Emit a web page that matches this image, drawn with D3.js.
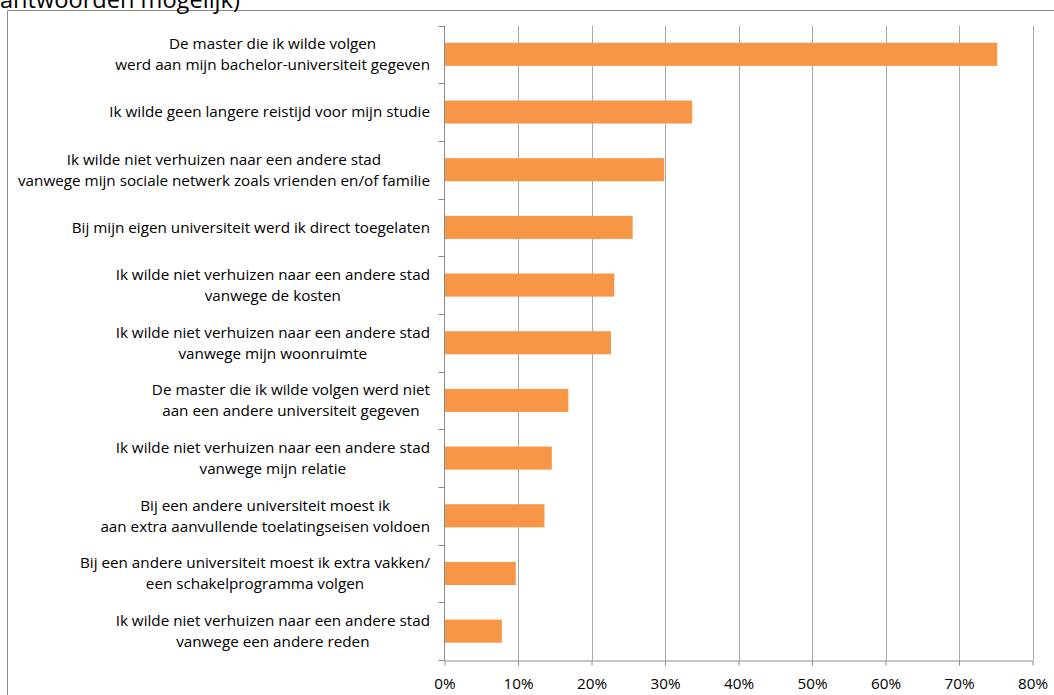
<!DOCTYPE html>
<html><head><meta charset="utf-8">
<script src="https://cdn.jsdelivr.net/npm/d3@7"></script>
<style>body{margin:0;background:#fff;overflow:hidden}svg{display:block}</style>
</head><body>
<svg id="c" width="1054" height="695"></svg>
<script>
const titleTail = "antwoorden mogelijk)";
const categories = [
  "De master die ik wilde volgen\nwerd aan mijn bachelor-universiteit gegeven",
  "Ik wilde geen langere reistijd voor mijn studie",
  "Ik wilde niet verhuizen naar een andere stad\nvanwege mijn sociale netwerk zoals vrienden en/of familie",
  "Bij mijn eigen universiteit werd ik direct toegelaten",
  "Ik wilde niet verhuizen naar een andere stad\nvanwege de kosten",
  "Ik wilde niet verhuizen naar een andere stad\nvanwege mijn woonruimte",
  "De master die ik wilde volgen werd niet\naan een andere universiteit gegeven",
  "Ik wilde niet verhuizen naar een andere stad\nvanwege mijn relatie",
  "Bij een andere universiteit moest ik\naan extra aanvullende toelatingseisen voldoen",
  "Bij een andere universiteit moest ik extra vakken/\neen schakelprogramma volgen",
  "Ik wilde niet verhuizen naar een andere stad\nvanwege een andere reden"
];
const values = [75.2, 33.7, 29.9, 25.6, 23.1, 22.65, 16.85, 14.6, 13.6, 9.7, 7.8];
const xTicks = [0, 10, 20, 30, 40, 50, 60, 70, 80];

const FONT = "'Open Sans', 'Noto Sans', sans-serif";
const svg = d3.select("#c");

// frame
svg.append("path").attr("d", "M7.5,695 L7.5,10.5 L1054,10.5")
  .attr("fill", "none").attr("stroke", "#8a8a8a").attr("stroke-width", 1);

// title tail (cut off at top, as in the source)
const title = svg.append("text").attr("x", 0).attr("y", 8)
  .attr("font-family", FONT).attr("font-size", 22).attr("fill", "#000").text(titleTail);
{ const w = title.node().getComputedTextLength(); title.attr("font-size", 22 * 240 / w); }

const x = d3.scaleLinear().domain([0, 80]).range([444.5, 1032.5]);
const y = d3.scaleBand().domain(categories).range([25.5, 660]).paddingInner(0.6).paddingOuter(0.3);

// label font size fitted to the reference line width
const probe = svg.append("text").attr("font-family", FONT).attr("font-size", 14)
  .text("Ik wilde geen langere reistijd voor mijn studie");
const fs = 14 * 321 / probe.node().getComputedTextLength();
probe.remove();

// gridlines
svg.append("g").selectAll("line").data(xTicks.slice(1)).join("line")
  .attr("x1", d => Math.round(x(d)) + 0.5).attr("x2", d => Math.round(x(d)) + 0.5)
  .attr("y1", 25.5).attr("y2", 660).attr("stroke", "#a8a8a8").attr("stroke-width", 1);

// bars
svg.append("g").selectAll("rect").data(values).join("rect")
  .attr("x", x(0)).attr("y", (d, i) => y(categories[i]))
  .attr("width", d => x(d) - x(0)).attr("height", y.bandwidth())
  .attr("fill", "#f79646");

// x axis
const xa = svg.append("g").attr("transform", "translate(0,660.5)")
  .call(d3.axisBottom(x).tickValues(xTicks).tickFormat(d => d + "%").tickSizeInner(5).tickSizeOuter(0).tickPadding(13));
xa.select(".domain").attr("stroke", "#8a8a8a");
xa.selectAll(".tick line").attr("stroke", "#8a8a8a");
xa.selectAll(".tick text").attr("font-family", FONT).attr("fill", "#000").attr("font-size", fs);

// y axis line and boundary ticks
const step = y.step();
const bounds = d3.range(categories.length + 1).map(i => y.range()[0] + i * step);
svg.append("line").attr("x1", 444.5).attr("x2", 444.5).attr("y1", 25.5).attr("y2", 660.5).attr("stroke", "#8a8a8a");
svg.append("g").selectAll("line").data(bounds).join("line")
  .attr("x1", 438.5).attr("x2", 444.5)
  .attr("y1", d => Math.round(d) + 0.5).attr("y2", d => Math.round(d) + 0.5)
  .attr("stroke", "#8a8a8a");

// category labels (multi-line, centered, block right-aligned)
const lg = svg.append("g").attr("font-family", FONT).attr("font-size", fs).attr("fill", "#000");
const lineH = 21;
const rightEdge = 430;
categories.forEach(c => {
  const lines = c.split("\n");
  const cy = y(c) + y.bandwidth() / 2;
  const t = lg.append("text").attr("text-anchor", "middle");
  lines.forEach((l, k) => {
    t.append("tspan").attr("x", 0).attr("y", cy + (k - (lines.length - 1) / 2) * lineH).attr("dy", "0.35em").text(l);
  });
  const w = d3.max(t.selectAll("tspan").nodes(), n => n.getComputedTextLength());
  t.selectAll("tspan").attr("x", rightEdge - w / 2);
});
</script>
</body></html>
